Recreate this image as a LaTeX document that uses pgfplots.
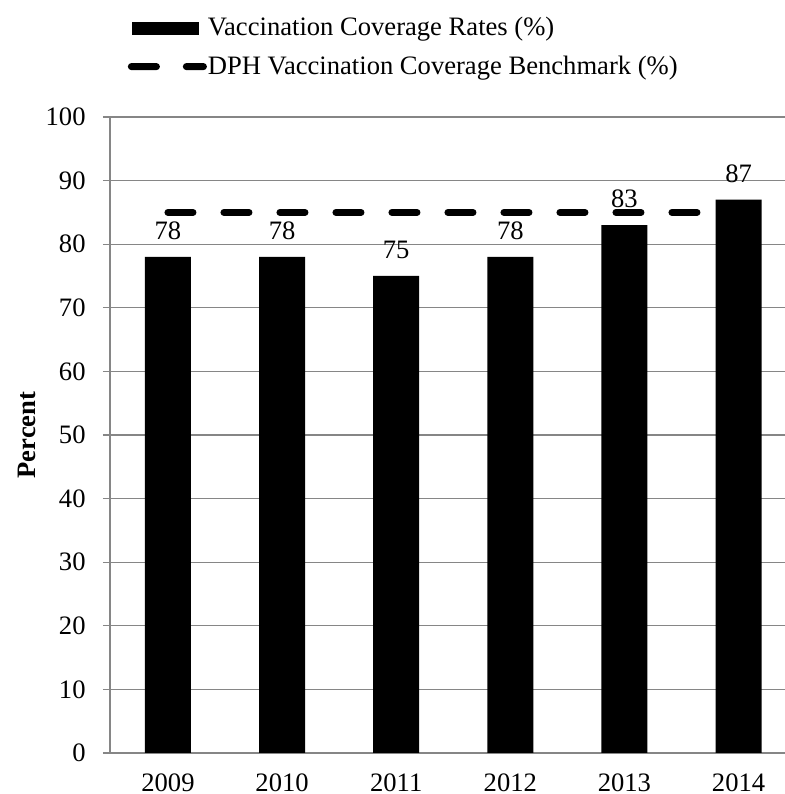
\documentclass[border=0pt]{standalone}
\usepackage{pgfplots}
\pgfplotsset{compat=1.18}
\usepackage{fontspec}
\setmainfont{Liberation Serif}
\definecolor{axisgray}{RGB}{134,134,134}
\begin{document}
\begin{tikzpicture}[font=\fontsize{13.3}{16}\selectfont]
% page frame, in pt: 1 px of the reference = 0.5pt
\path[use as bounding box] (-55pt,-20.5pt) rectangle (337.5pt,376.5pt);
\begin{axis}[
    at={(0,0)}, anchor=south west,
    scale only axis, width=337.5pt, height=318pt,
    xmin=-0.508, xmax=5.407, ymin=0, ymax=100,
    xtick={0,1,2,3,4,5},
    xticklabels={2009,2010,2011,2012,2013,2014},
    ytick={0,10,...,100},
    axis x line*=bottom, axis y line*=left,
    axis line style={axisgray, line width=0.75pt},
    ymajorgrids, grid style={axisgray, line width=0.65pt},
    tick align=outside, major tick length=3.5pt,
    ytick style={axisgray, line width=0.65pt},
    xtick style={draw=none},
    /pgf/number format/assume math mode=true,
    yticklabel style={anchor=east, inner sep=0pt, xshift=-8.5pt},
    xticklabel style={anchor=north, inner sep=0pt, yshift=-6.5pt},
    ylabel={\bfseries Percent},
    ylabel style={at={(axis description cs:-0.1111,0.5)}, anchor=base},
    legend cell align=left,
    legend style={draw=none, fill=none, at={(axis description cs:0,1)},
        anchor=north west, xshift=8.75pt, yshift=50pt, inner sep=0pt,
        nodes={inner sep=0pt}, row sep=8.5pt, column sep=0pt},
]
% legend images
\addlegendimage{legend image code/.code={
        \fill[black, draw=none] (2pt,-3.25pt) rectangle (35.5pt,3.25pt);
        \path[draw=none, fill=none] (0pt,-3.5pt) rectangle (40pt,3.5pt);
    }}
\addlegendentry{Vaccination Coverage Rates (\%)}
\addlegendimage{legend image code/.code={
        \fill[black, draw=none, rounded corners=1.7pt]
            (0pt,-1.75pt) rectangle (16pt,1.75pt);
        \fill[black, draw=none, rounded corners=1.7pt]
            (27.5pt,-1.75pt) rectangle (39.5pt,1.75pt);
        \path[draw=none, fill=none] (0pt,-3.5pt) rectangle (40pt,3.5pt);
    }}
\addlegendentry{DPH Vaccination Coverage Benchmark (\%)}
% vaccination coverage rates
\addplot[forget plot, ybar, bar width=23pt, fill=black, draw=none,
    nodes near coords,
    nodes near coords style={black, anchor=south, inner sep=0pt, yshift=8.5pt}]
    coordinates {(0,78) (1,78) (2,75) (3,78) (4,83) (5,87)};
% benchmark
\addplot[forget plot, black, line width=3.5pt, line cap=round,
    dash pattern=on 12.5pt off 15.5pt on 12.5pt off 15.5pt on 12.5pt off 15.5pt
        on 12.5pt off 15.5pt on 12.5pt off 15.5pt on 12.5pt off 15.5pt
        on 12.5pt off 15.5pt on 12.5pt off 15.5pt on 12.5pt off 15.5pt
        on 12.5pt off 40pt]
    coordinates {(0,85) (5,85)};
\end{axis}
\end{tikzpicture}
\end{document}
